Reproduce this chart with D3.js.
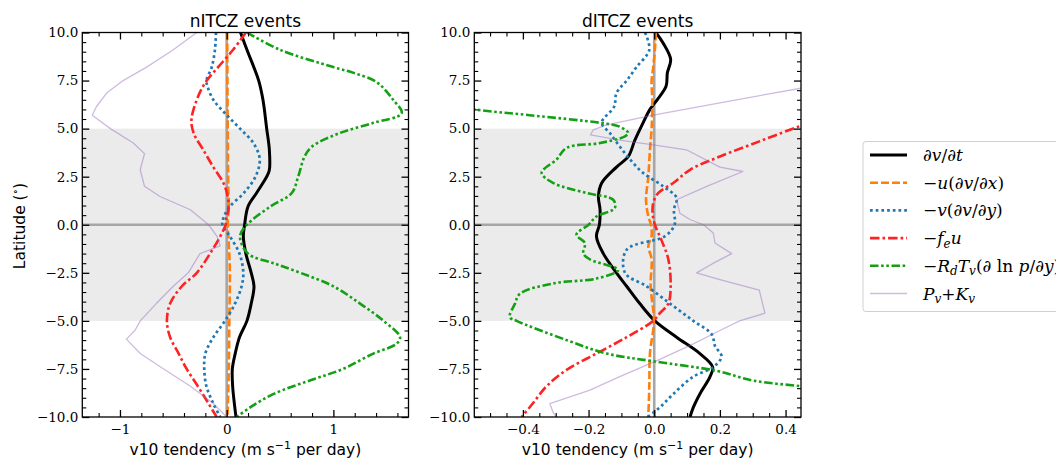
<!DOCTYPE html>
<html><head><meta charset="utf-8">
<script src="https://cdn.jsdelivr.net/npm/d3@7"></script>
<style>body{margin:0;background:#fff}svg{display:block}</style>
</head><body><svg id="c" width="1056" height="459"></svg>
<script>
// ---------- data ----------
const panelTitles = ["nITCZ events", "dITCZ events"];
const xAxisLabel = "v10 tendency (m s";
const yAxisLabel = "Latitude (";
const latTicks = [-10, -7.5, -5, -2.5, 0, 2.5, 5, 7.5, 10];
const latTickLabels = ["−10.0", "−7.5", "−5.0", "−2.5", "0.0", "2.5", "5.0", "7.5", "10.0"];
const nXTicks = [-1, 0, 1];
const nXTickLabels = ["−1", "0", "1"];
const dXTicks = [-0.4, -0.2, 0, 0.2, 0.4];
const dXTickLabels = ["−0.4", "−0.2", "0.0", "0.2", "0.4"];
const bandLat = [-5, 5];

// series: [latitude, tendency]
const n_dvdt = [[10,0.13],[9.1,0.19],[7.5,0.30],[6.5,0.34],[5,0.375],[3.9,0.40],[2.85,0.40],[2.5,0.375],[1.65,0.28],[0.95,0.20],[0,0.168],[-0.6,0.156],[-1.5,0.18],[-2.5,0.23],[-3.2,0.256],[-4.1,0.23],[-5,0.19],[-5.85,0.12],[-6.7,0.08],[-7.5,0.053],[-8.4,0.056],[-9.3,0.072],[-10,0.0875]];
const n_udvdx = [[10,0.005],[7.5,0.007],[5,0.01],[2,0.015],[1,0.02],[0,0.01],[-1,0.02],[-2.5,0.03],[-5,0.025],[-7.5,0.02],[-10,0.008]];
const n_vdvdy = [[10,-0.10],[9.1,-0.11],[8.2,-0.14],[7.5,-0.19],[7.2,-0.18],[6.5,-0.125],[5.8,-0.016],[5,0.125],[4.25,0.25],[3.4,0.31],[2.5,0.27],[1.65,0.16],[0.95,0.03],[0.43,-0.025],[0,-0.04],[-0.6,0.03],[-1.5,0.12],[-2.5,0.156],[-3.2,0.14],[-4.1,0.078],[-5,-0.016],[-5.85,-0.125],[-6.7,-0.2],[-7.5,-0.21],[-8.4,-0.19],[-9.3,-0.125],[-10,-0.06]];
const n_feu = [[10,0.18],[9.1,0.06],[8.2,-0.08],[7.4,-0.20],[6.5,-0.28],[5.46,-0.33],[4.77,-0.31],[3.9,-0.22],[3.0,-0.125],[2.17,-0.03],[1.47,0.01],[0.78,0.016],[0.3,-0.005],[0,-0.01],[-0.6,-0.06],[-1.5,-0.156],[-2.5,-0.28],[-3.2,-0.42],[-4.1,-0.53],[-5,-0.56],[-5.85,-0.53],[-6.7,-0.45],[-7.5,-0.375],[-8.4,-0.27],[-9.3,-0.17],[-10,-0.094]];
const n_pgf = [[10,0.19],[9.1,0.5],[8.2,1.0],[7.9,1.19],[7.4,1.41],[6.5,1.56],[5.8,1.64],[5.3,1.375],[4.77,1.06],[4.07,0.80],[3.55,0.73],[2.5,0.67],[1.65,0.61],[0.95,0.41],[0,0.19],[-0.6,0.125],[-1.5,0.20],[-2,0.44],[-2.5,0.69],[-3.2,1.0],[-4.1,1.25],[-5,1.47],[-5.85,1.625],[-6.2,1.59],[-6.7,1.375],[-7.5,1.09],[-8.1,0.78],[-8.8,0.44],[-9.5,0.22],[-10,0.094]];
const n_pk = [[10,-0.28],[9.1,-0.5],[8.2,-0.75],[7.5,-0.97],[6.85,-1.125],[6.15,-1.22],[5.7,-1.26],[5,-1.09],[4.25,-0.875],[3.7,-0.77],[2.86,-0.81],[2.0,-0.77],[1.47,-0.625],[0.78,-0.34],[0,-0.17],[-0.6,-0.09],[-1.1,-0.06],[-1.5,-0.25],[-2.5,-0.36],[-3.2,-0.5],[-4.1,-0.66],[-5,-0.81],[-5.5,-0.86],[-5.95,-0.94],[-6.7,-0.81],[-7.5,-0.59],[-8.4,-0.34],[-9.3,-0.125],[-10,0]];

const d_dvdt = [[10,0.005],[9.45,0.027],[8.6,0.05],[7.9,0.04],[7.2,0.036],[6.5,0.009],[6.0,-0.013],[5.3,-0.034],[4.4,-0.059],[3.55,-0.079],[3.0,-0.115],[2.17,-0.16],[1.47,-0.17],[0.78,-0.165],[0,-0.167],[-0.6,-0.176],[-1.5,-0.155],[-2.5,-0.115],[-3.2,-0.084],[-4.1,-0.044],[-5,0.002],[-5.85,0.068],[-6.7,0.139],[-7.4,0.178],[-7.9,0.17],[-8.8,0.139],[-9.5,0.119],[-10,0.109]];
const d_udvdx = [[10,0.005],[9.1,0.002],[8.2,-0.003],[7.5,-0.008],[6.5,-0.006],[5,-0.008],[3.9,-0.013],[2.5,-0.018],[1.3,-0.025],[0.43,-0.018],[0,-0.01],[-0.6,-0.008],[-1.1,-0.018],[-1.8,-0.008],[-3.2,-0.011],[-5,-0.001],[-6.7,-0.013],[-8.4,-0.015],[-10,-0.018]];
const d_vdvdy = [[10,-0.028],[9.1,-0.015],[8.2,-0.054],[7.5,-0.084],[6.85,-0.115],[6.15,-0.122],[5.3,-0.16],[4.77,-0.135],[4.07,-0.105],[3.4,-0.074],[2.7,-0.034],[2.0,0.027],[1.4,0.068],[0.78,0.06],[0,0.062],[-0.6,0.032],[-1.3,-0.084],[-2.5,-0.089],[-3.2,-0.023],[-4.1,0.048],[-5,0.119],[-5.7,0.175],[-6.3,0.185],[-6.85,0.205],[-7.4,0.18],[-7.9,0.119],[-8.8,0.058],[-9.5,0.017],[-10,-0.02]];
const d_feu = [[5.6,0.53],[5.15,0.447],[4.4,0.33],[3.55,0.2],[2.86,0.109],[2.17,0.058],[1.65,0.012],[1.13,-0.003],[0.6,-0.005],[0,0.002],[-0.8,0.022],[-1.8,0.043],[-3.2,0.05],[-4.1,0.043],[-4.6,0.017],[-5,-0.003],[-5.85,-0.084],[-6.7,-0.176],[-7.55,-0.267],[-8.4,-0.328],[-9.3,-0.37],[-10,-0.404]];
const d_pgf = [[6.3,-0.65],[6.0,-0.548],[5.7,-0.38],[5.3,-0.165],[5.1,-0.105],[4.77,-0.079],[4.6,-0.089],[4.25,-0.165],[4.0,-0.267],[3.4,-0.297],[2.7,-0.343],[2.17,-0.307],[1.65,-0.206],[1.3,-0.125],[0.87,-0.12],[0.43,-0.176],[0,-0.2],[-0.52,-0.237],[-0.95,-0.211],[-1.5,-0.216],[-1.8,-0.196],[-2.35,-0.11],[-2.8,-0.176],[-3.05,-0.307],[-3.6,-0.41],[-4.1,-0.424],[-4.8,-0.44],[-5,-0.419],[-6.0,-0.267],[-6.7,-0.145],[-7.1,-0.003],[-7.6,0.19],[-8.1,0.30],[-8.4,0.447],[-8.6,0.55]];
const d_pk = [[7.3,0.55],[7.1,0.447],[6.5,0.25],[5.7,-0.003],[5.2,-0.145],[4.93,-0.186],[4.68,-0.194],[4.4,-0.105],[4.16,-0.003],[3.9,0.098],[3.0,0.2],[2.77,0.27],[2.0,0.16],[1.3,0.068],[0.6,0.078],[0.26,0.11],[0,0.15],[-0.43,0.18],[-0.95,0.185],[-1.5,0.236],[-2.0,0.18],[-2.5,0.129],[-2.85,0.2],[-3.4,0.32],[-4.1,0.33],[-4.6,0.337],[-5,0.26],[-5.5,0.2],[-6.2,0.119],[-7.0,0.017],[-7.9,-0.105],[-8.6,-0.196],[-9.3,-0.318],[-9.8,-0.307],[-10,-0.297]];

// legend labels as math segments: [text, italic, subscript]
const legendLabels = [
  [["∂",1],["v",1],["/",0],["∂",1],["t",1]],
  [["−",0],["u",1],["(",0],["∂",1],["v",1],["/",0],["∂",1],["x",1],[")",0]],
  [["−",0],["v",1],["(",0],["∂",1],["v",1],["/",0],["∂",1],["y",1],[")",0]],
  [["−",0],["f",1],["e",1,1],["u",1]],
  [["−",0],["R",1],["d",1,1],["T",1],["v",1,1],["(",0],["∂",1],[" ln ",0],["p",1],["/",0],["∂",1],["y",1],[")",0]],
  [["P",1],["v",1,1],["+",0],["K",1],["v",1,1]]
];

// ---------- styles ----------
const styles = [
  {color:"#000000", width:3, dash:null, curve:"smooth"},
  {color:"#ff7f0e", width:2.6, dash:"8,3", curve:"smooth"},
  {color:"#1f77b4", width:2.7, dash:"2.7,3", curve:"smooth"},
  {color:"#ff2222", width:2.6, dash:"9.5,3,2.6,3", curve:"smooth"},
  {color:"#14a014", width:2.6, dash:"8.5,2.6,2.6,2.6,2.6,2.6", curve:"smooth"},
  {color:"#9467bd", width:1.3, dash:null, opacity:0.45, curve:"linear"}
];

const panels = [
  {title:panelTitles[0], left:82.3, right:408.5, xdom:[-1.353,1.704], xt:nXTicks, xl:nXTickLabels,
   xminor:d3.range(-1.2,1.65,0.2), series:[n_dvdt,n_udvdx,n_vdvdy,n_feu,n_pgf,n_pk]},
  {title:panelTitles[1], left:474.3, right:801, xdom:[-0.548,0.447], xt:dXTicks, xl:dXTickLabels,
   xminor:d3.range(-0.5,0.45,0.05), series:[d_dvdt,d_udvdx,d_vdvdy,d_feu,d_pgf,d_pk]}
];
const plotTop = 32.5, plotBottom = 417;
const serif = "'DejaVu Serif', serif";
const sans = "'DejaVu Sans', sans-serif";

const svg = d3.select("#c");
svg.append("rect").attr("width",1056).attr("height",459).attr("fill","#fff");
const y = d3.scaleLinear().domain([-10,10]).range([plotBottom, plotTop]);
const yMinor = d3.range(-10,10.01,0.5);

panels.forEach((p,pi)=>{
  const x = d3.scaleLinear().domain(p.xdom).range([p.left,p.right]);
  const g = svg.append("g");
  const cid = "clip"+pi;
  svg.append("defs").append("clipPath").attr("id",cid).append("rect")
    .attr("x",p.left).attr("y",plotTop).attr("width",p.right-p.left).attr("height",plotBottom-plotTop);
  const plot = g.append("g").attr("clip-path",`url(#${cid})`);
  plot.append("rect").attr("x",p.left).attr("width",p.right-p.left)
    .attr("y",y(bandLat[1])).attr("height",y(bandLat[0])-y(bandLat[1])).attr("fill","#ebebeb");
  plot.append("line").attr("x1",p.left).attr("x2",p.right).attr("y1",y(0)).attr("y2",y(0))
    .attr("stroke","#a6a6a6").attr("stroke-width",2.4);
  plot.append("line").attr("x1",x(0)).attr("x2",x(0)).attr("y1",plotTop).attr("y2",plotBottom)
    .attr("stroke","#a6a6a6").attr("stroke-width",2.6);
  p.series.forEach((s,si)=>{
    const st = styles[si];
    const line = d3.line().x(d=>x(d[1])).y(d=>y(d[0]))
      .curve(st.curve==="smooth" ? d3.curveCatmullRom.alpha(0.5) : d3.curveLinear);
    plot.append("path").datum(s).attr("d",line).attr("fill","none")
      .attr("stroke",st.color).attr("stroke-width",st.width)
      .attr("stroke-opacity",st.opacity||1)
      .attr("stroke-dasharray",st.dash)
      .attr("stroke-linejoin","round");
  });
  const mk = (ax, vals, size) => ax.tickValues(vals).tickSizeInner(size).tickSizeOuter(0);
  const xMinorVals = p.xminor.filter(v=>!p.xt.some(t=>Math.abs(t-v)<1e-6));
  const yMinorVals = yMinor.filter(v=>!latTicks.some(t=>Math.abs(t-v)<1e-6));
  const axes = [
    [()=>d3.axisBottom(x), p.xt, `translate(0,${plotBottom})`, p.xl, xMinorVals],
    [()=>d3.axisTop(x), p.xt, `translate(0,${plotTop})`, null, xMinorVals],
    [()=>d3.axisLeft(y), latTicks, `translate(${p.left},0)`, latTickLabels, yMinorVals],
    [()=>d3.axisRight(y), latTicks, `translate(${p.right},0)`, null, yMinorVals]
  ];
  axes.forEach(([axf,vals,tr,labels,minorVals],ai)=>{
    const a = mk(axf(), vals, -7).tickPadding(ai===0?7:4)
      .tickFormat((d,i)=> labels ? labels[i] : "");
    const ga = g.append("g").attr("transform",tr).call(a);
    ga.select(".domain").remove();
    ga.selectAll("line").attr("stroke","#000").attr("stroke-width",1.3);
    ga.selectAll("text").attr("font-family",serif).attr("font-size",13.5).attr("fill","#000");
    const gm = g.append("g").attr("transform",tr)
      .call(mk(axf(), minorVals, -4).tickFormat(""));
    gm.select(".domain").remove();
    gm.selectAll("line").attr("stroke","#000").attr("stroke-width",1.1);
  });
  g.append("rect").attr("x",p.left).attr("y",plotTop).attr("width",p.right-p.left).attr("height",plotBottom-plotTop)
    .attr("fill","none").attr("stroke","#000").attr("stroke-width",1.3);
  g.append("text").attr("x",(p.left+p.right)/2).attr("y",27).attr("text-anchor","middle")
    .attr("font-family",sans).attr("font-size",17).text(p.title);
  const xl = g.append("text").attr("x",(p.left+p.right)/2).attr("y",455).attr("text-anchor","middle")
    .attr("font-family",sans).attr("font-size",15.5);
  xl.append("tspan").text(xAxisLabel);
  xl.append("tspan").attr("font-size",11).attr("dy",-6).text("−1");
  xl.append("tspan").attr("dy",6).text(" per day)");
});

const yl = svg.append("text").attr("transform","translate(25,226) rotate(-90)")
  .attr("text-anchor","middle").attr("font-family",sans).attr("font-size",15.5);
yl.append("tspan").text(yAxisLabel);
yl.append("tspan").attr("font-family",serif).attr("font-size",11).attr("dy",-6).text("∘");
yl.append("tspan").attr("dy",6).text(")");

const lg = svg.append("g");
lg.append("rect").attr("x",863).attr("y",141.5).attr("width",230).attr("height",170).attr("rx",3)
  .attr("fill","#fff").attr("stroke","#d0d0d0").attr("stroke-width",1);
legendLabels.forEach((segs,i)=>{
  const yy = 155 + i*27.7;
  const st = styles[i];
  lg.append("line").attr("x1",870).attr("x2",907).attr("y1",yy).attr("y2",yy)
    .attr("stroke",st.color).attr("stroke-width",st.width).attr("stroke-opacity",st.opacity||1)
    .attr("stroke-dasharray",st.dash);
  const t = lg.append("text").attr("x",923).attr("y",yy+6).attr("font-family",serif).attr("font-size",17);
  let sub = false;
  segs.forEach(([txt,it,sb])=>{
    const ts = t.append("tspan").text(txt).attr("font-style",it?"italic":"normal");
    if (sb && !sub) { ts.attr("dy",3.5).attr("font-size",12); sub = true; }
    else if (sb && sub) { ts.attr("font-size",12); }
    else if (!sb && sub) { ts.attr("dy",-3.5); sub = false; }
  });
});
</script></body></html>
